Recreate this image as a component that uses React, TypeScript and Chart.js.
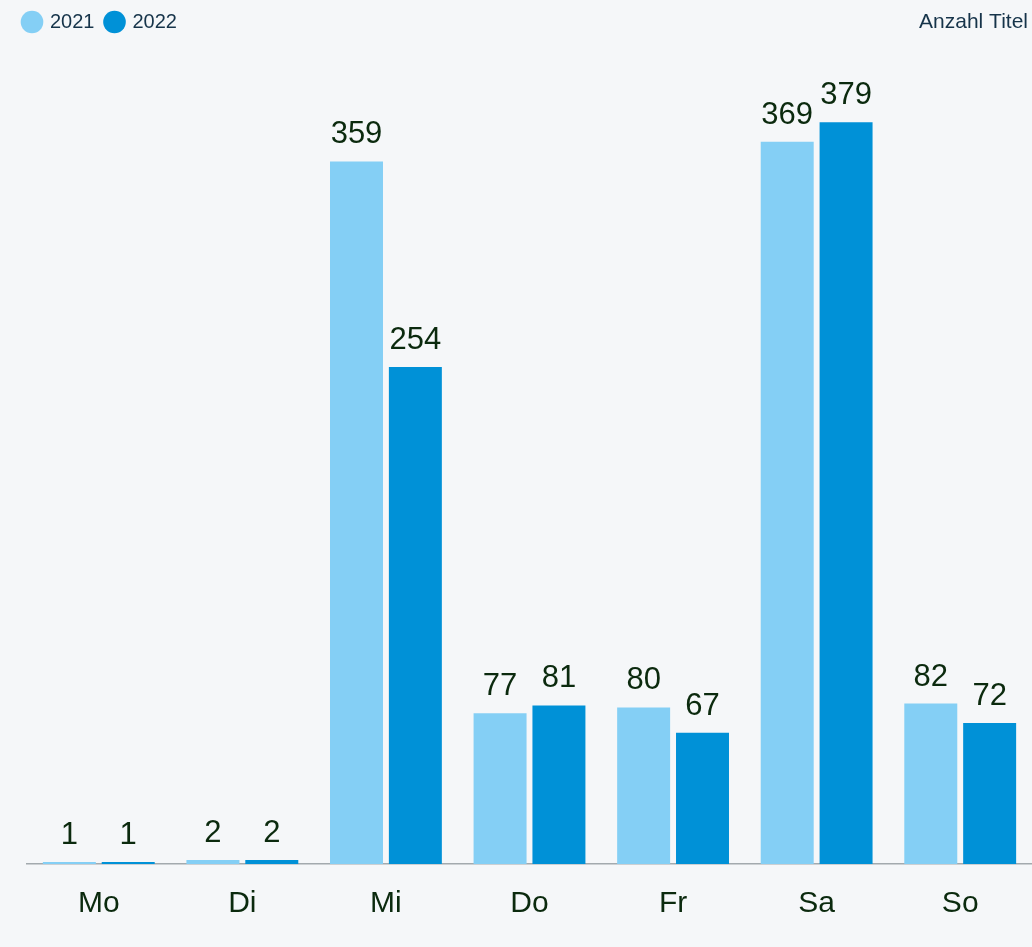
import React, { useEffect, useRef } from "react";
import { Chart, registerables } from "chart.js";

Chart.register(...registerables);

const categories = ["Mo", "Di", "Mi", "Do", "Fr", "Sa", "So"];
const series2021 = [1, 2, 359, 77, 80, 369, 82];
const series2022 = [1, 2, 254, 81, 67, 379, 72];
const seriesLabels = ["2021", "2022"];
const axisTitle = "Anzahl Titel";

const BG = "#f5f7f9";
const FONT = "'Liberation Sans', Arial, sans-serif";
const LABEL_COLOR = "#0b2a0e";
const LEGEND_COLOR = "#16344a";

const valueLabels = {
  id: "valueLabels",
  afterDatasetsDraw(chart: any) {
    const ctx = chart.ctx;
    ctx.save();
    ctx.font = `31px ${FONT}`;
    ctx.fillStyle = LABEL_COLOR;
    ctx.textAlign = "center";
    ctx.textBaseline = "alphabetic";
    chart.data.datasets.forEach((ds: any, i: number) => {
      const meta = chart.getDatasetMeta(i);
      meta.data.forEach((bar: any, j: number) => {
        ctx.fillText(String(ds.data[j]), bar.x, bar.y - 18);
      });
    });
    ctx.restore();
  },
};

const cornerTitle = {
  id: "cornerTitle",
  afterDraw(chart: any) {
    const ctx = chart.ctx;
    ctx.save();
    ctx.font = `21px ${FONT}`;
    ctx.fillStyle = LEGEND_COLOR;
    ctx.textAlign = "right";
    ctx.textBaseline = "middle";
    ctx.fillText(axisTitle, chart.width - 4, 22);
    ctx.restore();
  },
};

export default function App() {
  const ref = useRef<HTMLCanvasElement | null>(null);
  useEffect(() => {
    document.body.style.margin = "0";
    document.body.style.background = BG;
    const chart = new Chart(ref.current as HTMLCanvasElement, {
      type: "bar",
      data: {
        labels: categories,
        datasets: [
          {
            label: seriesLabels[0],
            data: series2021,
            backgroundColor: "#84cff5",
            borderWidth: 0,
            barPercentage: 0.9,
            categoryPercentage: 0.82,
          },
          {
            label: seriesLabels[1],
            data: series2022,
            backgroundColor: "#0091d7",
            borderWidth: 0,
            barPercentage: 0.9,
            categoryPercentage: 0.82,
          },
        ],
      },
      options: {
        animation: false,
        responsive: false,
        maintainAspectRatio: false,
        layout: { padding: { left: 12, right: 0, top: 0, bottom: 3 } },
        plugins: {
          legend: {
            position: "top",
            align: "start",
            labels: {
              usePointStyle: true,
              pointStyle: "circle",
              boxWidth: 16,
              boxHeight: 16,
              padding: 12,
              color: LEGEND_COLOR,
              font: { family: FONT, size: 20 },
            },
          },
          tooltip: { enabled: false },
        },
        scales: {
          x: {
            grid: { display: false, drawTicks: false },
            border: { display: true, color: "#a3aaae", width: 1.5 },
            ticks: {
              color: LABEL_COLOR,
              font: { family: FONT, size: 30 },
              padding: 22,
            },
          },
          y: {
            min: 0,
            max: 420,
            display: true,
            grid: { display: false, drawTicks: false },
            border: { display: false },
            ticks: { display: false },
            afterFit: (scale: any) => {
              scale.width = 15;
            },
          },
        },
      },
      plugins: [valueLabels, cornerTitle],
    });
    return () => chart.destroy();
  }, []);
  return (
    <div style={{ background: BG, width: 1032, height: 947 }}>
      <canvas ref={ref} width={1032} height={947} style={{ display: "block" }} />
    </div>
  );
}
